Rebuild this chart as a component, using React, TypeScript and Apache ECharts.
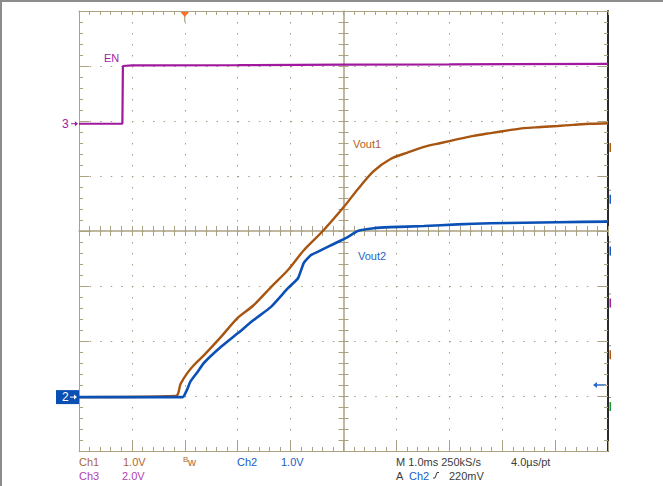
import React, { useEffect, useRef } from "react";
import * as echarts from "echarts";

// ---- Scope settings (time in ms, timebase 1.0 ms/div, trigger at t = 0) ----
const timeMin = -2;
const timeMax = 8;
const divisionsY = 8;

const ch1Scale = 1.0; // V/div
const ch2Scale = 1.0; // V/div
const ch3Scale = 2.0; // V/div
const ch1Ground = 0.98; // ground marker position, divisions from bottom
const ch2Ground = 0.98;
const ch3Ground = 5.95;
const triggerLevel = 0.22; // V on Ch2

// ---- Traces ----
const enTime = [-2.0, -1.18, -1.17, -1.0, 1.0, 3.0, 5.0, 8.0];
const enVolts = [0, 0, 2.1, 2.12, 2.13, 2.15, 2.16, 2.18];

const vout1Time = [
  -2.0, -0.17, -0.08, 0.05, 0.17, 0.36, 0.68, 1.0, 1.3, 1.63, 1.95, 2.25, 2.61,
  3.0, 3.27, 3.57, 3.89, 4.22, 4.52, 4.84, 5.16, 5.46, 5.78, 6.11, 6.41, 6.73,
  7.05, 7.35, 7.67, 8.0,
];
const vout1Volts = [
  0, 0.02, 0.24, 0.44, 0.58, 0.76, 1.09, 1.44, 1.67, 2.0, 2.31, 2.67, 3.02,
  3.45, 3.78, 4.11, 4.33, 4.45, 4.55, 4.62, 4.69, 4.75, 4.8, 4.85, 4.89, 4.91,
  4.93, 4.95, 4.97, 4.98,
];

const vout2Time = [
  -2.0, -0.04, 0.04, 0.11, 0.25, 0.36, 0.68, 1.0, 1.3, 1.63, 1.95, 2.14, 2.25,
  2.38, 2.51, 2.7, 2.89, 3.08, 3.27, 3.57, 3.89, 4.52, 5.16, 5.78, 6.41, 7.05,
  8.0,
];
const vout2Volts = [
  0, 0, 0.13, 0.29, 0.47, 0.62, 0.91, 1.16, 1.4, 1.64, 1.98, 2.16, 2.44, 2.58,
  2.64, 2.73, 2.82, 2.91, 3.02, 3.07, 3.09, 3.11, 3.14, 3.16, 3.17, 3.18, 3.19,
];

// ---- Text ----
const statusRow1 = [
  { text: "Ch1", color: "#b0662c", dx: 0 },
  { text: "1.0V", color: "#b0662c", dx: 44 },
  { text: "Ch2", color: "#1a5cc4", dx: 158 },
  { text: "1.0V", color: "#1a5cc4", dx: 202 },
  { text: "M 1.0ms 250kS/s", color: "#3c3c3c", dx: 317 },
  { text: "4.0\u00b5s/pt", color: "#3c3c3c", dx: 432 },
];
const statusRow2 = [
  { text: "Ch3", color: "#b040b4", dx: 0 },
  { text: "2.0V", color: "#b040b4", dx: 43 },
  { text: "A", color: "#3c3c3c", dx: 317 },
  { text: "Ch2", color: "#1a5cc4", dx: 330 },
  { text: "220mV", color: "#3c3c3c", dx: 370 },
];

const TAN = "#aaa283";
const PURPLE = "#a0189e";
const BROWN = "#a85512";
const BLUE = "#0b50b5";

export default function App() {
  const ref = useRef<HTMLDivElement>(null);

  useEffect(() => {
    if (!ref.current) return;
    const chart = echarts.init(ref.current, undefined, { renderer: "svg" });

    const GL = 79,
      GT = 11,
      GW = 529,
      GH = 440;
    const xOf = (t: number) => GL + ((t - timeMin) / (timeMax - timeMin)) * GW;
    const yOf = (d: number) => GT + ((divisionsY - d) / divisionsY) * GH;
    const font = "Liberation Sans, Arial, sans-serif";

    const toDiv = (times: number[], volts: number[], ground: number, scale: number) =>
      times.map((t, i) => [t, ground + volts[i] / scale]);

    const baseX = {
      type: "value",
      min: timeMin,
      max: timeMax,
      interval: 1,
      axisLabel: { show: false },
      splitLine: { show: false },
    };
    const baseY = {
      type: "value",
      min: 0,
      max: divisionsY,
      interval: 1,
      axisLabel: { show: false },
      splitLine: { show: false },
    };
    const tick = (inside: boolean, major: number, minor: number) => ({
      axisTick: { show: true, inside, length: major, lineStyle: { color: TAN, width: 1 } },
      minorTick: { show: true, splitNumber: 5, length: minor, lineStyle: { color: TAN, width: 1 } },
    });

    const y3 = yOf(ch3Ground);
    const y2 = yOf(ch2Ground);
    const yTrig = yOf(ch2Ground + triggerLevel / ch2Scale);
    const xTrig = xOf(0);
    const R = GL + GW;

    const row1Y = 461.5;
    const row2Y = 475.5;

    const graphic: any[] = [
      // outer frame (top & left)
      { type: "rect", shape: { x: 0, y: 0, width: 663, height: 2 }, style: { fill: "#8c8c8c" } },
      { type: "rect", shape: { x: 0, y: 0, width: 2, height: 486 }, style: { fill: "#8c8c8c" } },
      // trigger position marker
      {
        type: "line",
        shape: { x1: xTrig, y1: GT + 4, x2: xTrig, y2: GT + 11 },
        style: { stroke: "#958d6e", lineWidth: 1 },
      },
      {
        type: "polygon",
        shape: { points: [[xTrig - 5, GT], [xTrig + 5, GT], [xTrig, GT + 6]] },
        style: { fill: "#ff6a1a" },
      },
      // Ch3 ground marker
      {
        type: "text",
        style: { text: "3", x: GL - 17, y: y3, fill: PURPLE, font: `12px ${font}`, verticalAlign: "middle" },
      },
      { type: "line", shape: { x1: GL - 8, y1: y3, x2: GL - 2, y2: y3 }, style: { stroke: PURPLE, lineWidth: 1 } },
      {
        type: "polygon",
        shape: { points: [[GL - 1, y3], [GL - 4, y3 - 2.5], [GL - 4, y3 + 2.5]] },
        style: { fill: PURPLE },
      },
      // Ch2 ground marker
      { type: "rect", shape: { x: GL - 23, y: y2 - 7, width: 23, height: 14 }, style: { fill: "#0a50b4" } },
      {
        type: "text",
        style: { text: "2", x: GL - 17, y: y2, fill: "#ffffff", font: `12px ${font}`, verticalAlign: "middle" },
      },
      { type: "line", shape: { x1: GL - 9, y1: y2, x2: GL - 3, y2: y2 }, style: { stroke: "#ffffff", lineWidth: 1 } },
      {
        type: "polygon",
        shape: { points: [[GL - 2, y2], [GL - 5, y2 - 2.5], [GL - 5, y2 + 2.5]] },
        style: { fill: "#ffffff" },
      },
      // trigger level arrow (right)
      { type: "line", shape: { x1: R - 12, y1: yTrig, x2: R - 2, y2: yTrig }, style: { stroke: "#2a68c8", lineWidth: 1.5 } },
      {
        type: "polygon",
        shape: { points: [[R - 15, yTrig], [R - 11, yTrig - 3], [R - 11, yTrig + 3]] },
        style: { fill: "#2a68c8" },
      },
      // small blue piece on right border top
      { type: "rect", shape: { x: R - 1, y: GT + 8, width: 2, height: 6 }, style: { fill: "#3a7ac8" } },
      // trace labels
      { type: "text", style: { text: "EN", x: 104, y: 57.5, fill: "#a224a2", font: `11px ${font}`, verticalAlign: "middle" } },
      { type: "text", style: { text: "Vout1", x: 353, y: 144, fill: "#b0622a", font: `11px ${font}`, verticalAlign: "middle" } },
      { type: "text", style: { text: "Vout2", x: 358, y: 256, fill: "#1f63c4", font: `11px ${font}`, verticalAlign: "middle" } },
      // Bw
      { type: "text", style: { text: "B", x: GL + 104, y: row1Y - 2, fill: "#b0662c", font: `8px ${font}`, verticalAlign: "middle" } },
      { type: "text", style: { text: "w", x: GL + 109, y: row1Y, fill: "#b0662c", font: `11px ${font}`, verticalAlign: "middle" } },
      // rising edge symbol
      {
        type: "polyline",
        shape: { points: [[GL + 354, row2Y + 2.5], [GL + 356, row2Y + 2.5], [GL + 358, row2Y - 3], [GL + 360, row2Y - 3]] },
        style: { stroke: "#3c3c3c", lineWidth: 1, fill: "none" },
      },
    ];

    statusRow1.forEach((s) =>
      graphic.push({
        type: "text",
        style: { text: s.text, x: GL + s.dx, y: row1Y, fill: s.color, font: `11px ${font}`, verticalAlign: "middle" },
      })
    );
    statusRow2.forEach((s) =>
      graphic.push({
        type: "text",
        style: { text: s.text, x: GL + s.dx, y: row2Y, fill: s.color, font: `11px ${font}`, verticalAlign: "middle" },
      })
    );

    // soft-key markers right of the graticule
    const keyColors = ["#b05a10", "#1a5cc4", "#1a5cc4", "#a020a0", "#b05a10", "#1a9a30"];
    keyColors.forEach((c, i) => {
      const top = GT + 132 + i * 51.8;
      graphic.push({ type: "rect", shape: { x: R + 1.5, y: top, width: 1.5, height: 9 }, style: { fill: c } });
      if (i > 0)
        graphic.push({ type: "rect", shape: { x: R + 1.5, y: top - 5, width: 1, height: 1 }, style: { fill: "#222" } });
    });

    chart.setOption({
      animation: false,
      backgroundColor: "#ffffff",
      grid: { left: GL, top: GT, width: GW, height: GH, containLabel: false, outerBoundsMode: "none" },
      xAxis: [
        {
          ...baseX,
          position: "bottom",
          axisLine: { show: true, onZero: false, lineStyle: { color: TAN, width: 1 } },
          ...tick(true, 10, 4),
          splitLine: { show: true, lineStyle: { color: "#a59d80", width: 1, type: [1.5, 9.5] } },
        },
        {
          ...baseX,
          position: "top",
          axisLine: { show: true, onZero: false, lineStyle: { color: TAN, width: 1 } },
          ...tick(true, 4, 4),
        },
        {
          ...baseX,
          position: "bottom",
          offset: -GH / 2,
          axisLine: { show: true, onZero: false, lineStyle: { color: TAN, width: 1.5 } },
          ...tick(true, 5, 5),
        },
        {
          ...baseX,
          position: "bottom",
          offset: -GH / 2,
          axisLine: { show: false, onZero: false },
          ...tick(false, 5, 5),
        },
      ],
      yAxis: [
        {
          ...baseY,
          position: "left",
          axisLine: { show: true, onZero: false, lineStyle: { color: TAN, width: 1 } },
          ...tick(true, 10, 4),
          splitLine: { show: true, lineStyle: { color: "#a59d80", width: 1, type: [1.5, (GW / 50) - 1.5] } },
        },
        {
          ...baseY,
          position: "right",
          axisLine: { show: true, onZero: false, lineStyle: { color: "#2a2a2a", width: 2 } },
          ...tick(true, 10, 4),
        },
        {
          ...baseY,
          position: "left",
          offset: -GW / 2,
          axisLine: { show: true, onZero: false, lineStyle: { color: TAN, width: 1.5 } },
          ...tick(true, 5, 5),
        },
        {
          ...baseY,
          position: "left",
          offset: -GW / 2,
          axisLine: { show: false, onZero: false },
          ...tick(false, 5, 5),
        },
      ],
      series: [
        {
          name: "EN",
          type: "line",
          data: toDiv(enTime, enVolts, ch3Ground, ch3Scale),
          showSymbol: false,
          lineStyle: { color: PURPLE, width: 2.2 },
          itemStyle: { color: PURPLE },
        },
        {
          name: "Vout1",
          type: "line",
          data: toDiv(vout1Time, vout1Volts, ch1Ground, ch1Scale),
          showSymbol: false,
          smooth: 0.3,
          lineStyle: { color: BROWN, width: 2.4 },
          itemStyle: { color: BROWN },
        },
        {
          name: "Vout2",
          type: "line",
          data: toDiv(vout2Time, vout2Volts, ch2Ground, ch2Scale),
          showSymbol: false,
          smooth: 0.15,
          lineStyle: { color: BLUE, width: 2.6 },
          itemStyle: { color: BLUE },
        },
      ],
      graphic,
    });

    return () => chart.dispose();
  }, []);

  return (
    <div
      ref={ref}
      style={{ position: "fixed", left: 0, top: 0, width: 663, height: 486, background: "#fff" }}
    />
  );
}
